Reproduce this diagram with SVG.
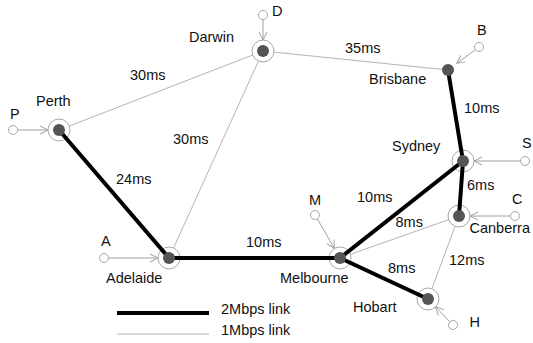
<svg xmlns="http://www.w3.org/2000/svg" width="533" height="343" viewBox="0 0 533 343">
<style>
  text { font-family: "Liberation Sans", Arial, sans-serif; font-size: 14.5px; fill: #111; }
  .thin { stroke: #b4b4b4; stroke-width: 1; fill: none; }
  .thick { stroke: #000; stroke-width: 4; fill: none; }
  .ring { fill: #fff; stroke: #a8a8a8; stroke-width: 1; }
  .dot { fill: #555; }
  .src { fill: #fff; stroke: #a8a8a8; stroke-width: 1; }
  .arr { stroke: #a0a0a0; stroke-width: 1; fill: none; marker-end: url(#open); }
</style>
<defs>
  <marker id="open" markerUnits="userSpaceOnUse" markerWidth="10" markerHeight="10" viewBox="0 0 10 10" refX="9" refY="5" orient="auto">
    <path d="M1,1 L9,5 L1,9" fill="none" stroke="#a0a0a0" stroke-width="1"/>
  </marker>
</defs>
<rect width="533" height="343" fill="#fff"/>

<g id="connectors">
  <line class="thin" x1="59" y1="130" x2="263" y2="51"/>
  <line class="thin" x1="263" y1="51" x2="448" y2="70"/>
  <line class="thin" x1="263" y1="51" x2="169" y2="258"/>
  <line class="thin" x1="340" y1="258" x2="459" y2="216"/>
  <line class="thin" x1="459" y1="216" x2="428" y2="299"/>
</g>

<g id="rings">
  <circle class="ring" cx="59" cy="130" r="11"/>
  <circle class="ring" cx="263" cy="51" r="11"/>
  <circle class="ring" cx="463" cy="161" r="11"/>
  <circle class="ring" cx="459" cy="216" r="11"/>
  <circle class="ring" cx="340" cy="258" r="11"/>
  <circle class="ring" cx="169" cy="258" r="11"/>
  <circle class="ring" cx="428" cy="299" r="11"/>
</g>

<g id="thick-links">
  <line class="thick" x1="59" y1="130" x2="169" y2="258"/>
  <line class="thick" x1="169" y1="258" x2="340" y2="258"/>
  <line class="thick" x1="340" y1="258" x2="463" y2="161"/>
  <line class="thick" x1="340" y1="258" x2="428" y2="299"/>
  <line class="thick" x1="448" y1="70" x2="463" y2="161"/>
  <line class="thick" x1="463" y1="161" x2="459" y2="216"/>
</g>

<g id="source-arrows">
  <line class="arr" x1="17.5" y1="130" x2="48" y2="130"/>
  <line class="arr" x1="263" y1="19.5" x2="263" y2="40"/>
  <line class="arr" x1="475.4" y1="49.7" x2="456.8" y2="63.4"/>
  <line class="arr" x1="520.5" y1="161" x2="474" y2="161"/>
  <line class="arr" x1="510.5" y1="216" x2="470" y2="216"/>
  <line class="arr" x1="317.3" y1="218.9" x2="334.5" y2="248.5"/>
  <line class="arr" x1="108.5" y1="258" x2="158" y2="258"/>
  <line class="arr" x1="449.9" y1="321.8" x2="435.6" y2="306.9"/>
</g>

<g id="node-perth"><circle class="dot" cx="59" cy="130" r="6"/><text x="36" y="105.5">Perth</text></g>
<g id="node-darwin"><circle class="dot" cx="263" cy="51" r="6"/><text x="189" y="42">Darwin</text></g>
<g id="node-brisbane"><circle class="dot" cx="448" cy="70" r="6"/><text x="369" y="84">Brisbane</text></g>
<g id="node-sydney"><circle class="dot" cx="463" cy="161" r="6"/><text x="392" y="150.5">Sydney</text></g>
<g id="node-canberra"><circle class="dot" cx="459" cy="216" r="6"/><text x="469.5" y="233">Canberra</text></g>
<g id="node-melbourne"><circle class="dot" cx="340" cy="258" r="6"/><text x="280" y="283">Melbourne</text></g>
<g id="node-adelaide"><circle class="dot" cx="169" cy="258" r="6"/><text x="106" y="283">Adelaide</text></g>
<g id="node-hobart"><circle class="dot" cx="428" cy="299" r="6"/><text x="353" y="311.5">Hobart</text></g>

<g id="src-P"><circle class="src" cx="13" cy="130" r="4.5"/><text x="10" y="119">P</text></g>
<g id="src-D"><circle class="src" cx="263" cy="15" r="4.5"/><text x="272" y="15.5">D</text></g>
<g id="src-B"><circle class="src" cx="479" cy="47" r="4.5"/><text x="477" y="35">B</text></g>
<g id="src-S"><circle class="src" cx="525" cy="161" r="4.5"/><text x="522" y="148">S</text></g>
<g id="src-C"><circle class="src" cx="515" cy="216" r="4.5"/><text x="512" y="204">C</text></g>
<g id="src-M"><circle class="src" cx="315" cy="215" r="4.5"/><text x="309" y="205">M</text></g>
<g id="src-A"><circle class="src" cx="104" cy="258" r="4.5"/><text x="101" y="246">A</text></g>
<g id="src-H"><circle class="src" cx="453" cy="325" r="4.5"/><text x="469.5" y="327">H</text></g>

<g id="link-labels">
  <text x="130" y="80">30ms</text>
  <text x="173" y="144">30ms</text>
  <text x="345" y="53">35ms</text>
  <text x="464" y="113">10ms</text>
  <text x="116" y="184">24ms</text>
  <text x="246" y="247">10ms</text>
  <text x="357" y="202">10ms</text>
  <text x="395.5" y="226.5">8ms</text>
  <text x="388" y="273">8ms</text>
  <text x="467" y="190">6ms</text>
  <text x="449" y="265">12ms</text>
</g>

<g id="legend">
  <line class="thick" x1="117" y1="313" x2="209" y2="313"/>
  <line class="thin" x1="117" y1="334" x2="209" y2="334"/>
  <text x="221" y="314">2Mbps link</text>
  <text x="221" y="335">1Mbps link</text>
</g>
</svg>
